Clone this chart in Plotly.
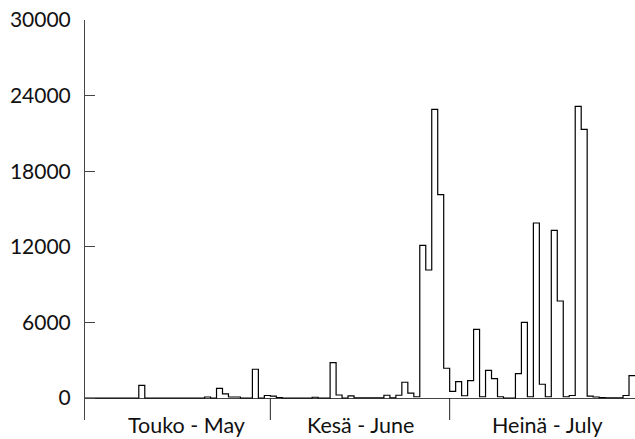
import plotly.graph_objects as go

# Daily values, 1 May .. 31 July (92 days)
may = [0, 0, 0, 0, 0, 0, 0, 0, 0, 1000,
       0, 0, 0, 0, 0, 0, 0, 0, 0, 0,
       80, 0, 770, 320, 80, 80, 0, 0, 2280, 0,
       200]
june = [150, 40, 0, 0, 0, 0, 0, 60, 0, 0,
        2800, 240, 0, 170, 20, 20, 20, 20, 20, 220,
        20, 220, 1250, 380, 100, 12120, 10160, 22900, 16140, 2360]
july = [530, 1300, 180, 1375, 5450, 100, 2200, 1530, 100, 0,
        0, 1930, 6000, 100, 13890, 1090, 100, 13300, 7700, 100,
        200, 23150, 21320, 150, 80, 30, 20, 20, 20, 200,
        1770]

month_labels = ["Touko - May", "Kesä - June", "Heinä - July"]
month_label_pos = [16.9, 46.0, 77.4]
y_ticks = [0, 6000, 12000, 18000, 24000, 30000]

values = may + june + july
n = len(values)
x_edges = list(range(n + 1))
y_steps = values + [values[-1]]

month_bounds = [len(may), len(may) + len(june)]

Y_MIN = -1746
Y_MAX = 30000

fig = go.Figure()
fig.add_trace(go.Scatter(
    x=x_edges, y=y_steps, mode="lines", line_shape="hv",
    line=dict(color="black", width=1.2), hoverinfo="skip", showlegend=False))

shapes = []
for b in month_bounds:
    shapes.append(dict(type="line", xref="x", yref="y", x0=b, x1=b, y0=Y_MIN, y1=0,
                       line=dict(color="#222", width=1)))

annotations = []
for lab, pos in zip(month_labels, month_label_pos):
    annotations.append(dict(text=lab, x=pos, xref="x", y=-0.013, yref="paper",
                            yanchor="middle", xanchor="center", showarrow=False,
                            borderpad=0,
                            font=dict(family="Lato", size=21.5, color="#111")))

fig.update_layout(
    width=635, height=439,
    margin=dict(l=85, r=0, t=20, b=19, autoexpand=False),
    paper_bgcolor="white", plot_bgcolor="white",
    shapes=shapes, annotations=annotations,
    font=dict(family="Lato", size=21, color="#111"),
    xaxis=dict(range=[0, n], showgrid=False, zeroline=False, showline=False,
               showticklabels=False, ticks="", automargin=False),
    yaxis=dict(range=[Y_MIN, Y_MAX], tickvals=y_ticks,
               ticktext=[str(v) for v in y_ticks], automargin=False,
               ticklabeloverflow="allow",
               showgrid=False, showline=True, linecolor="#444", linewidth=1,
               ticks="inside", ticklen=10, tickcolor="#444", tickwidth=1,
               zeroline=True, zerolinecolor="#444", zerolinewidth=1,
               ticklabelstandoff=9),
)

# Remove the default page margin so the figure fills the window exactly.
fig.write_html("out.html", config={"displayModeBar": False},
               post_script="document.body.style.margin='0';")
